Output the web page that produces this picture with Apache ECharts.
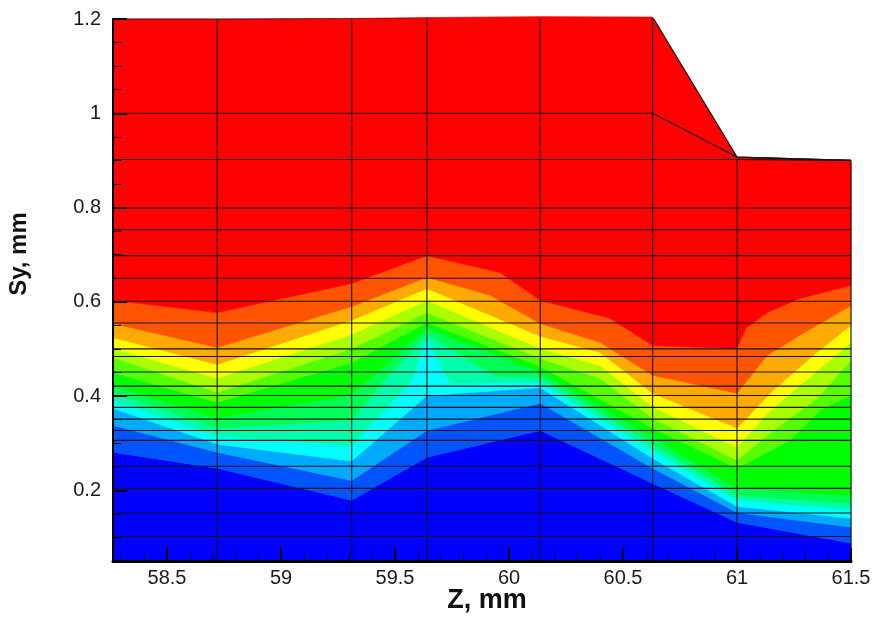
<!DOCTYPE html>
<html><head><meta charset="utf-8">
<script src="https://cdn.jsdelivr.net/npm/echarts@6/dist/echarts.min.js"></script>
<style>html,body{margin:0;padding:0;background:#fff}#c{width:874px;height:617px}</style>
</head><body><div id="c"></div>
<script>
// ---- axis ranges and ticks ----
const xMin = 58.263, xMax = 61.5, yMin = 0.05, yMax = 1.2;
const xTickValues = [58.5, 59, 59.5, 60, 60.5, 61, 61.5];
const xMinorTicks = [58.3,58.4,58.6,58.7,58.8,58.9,59.1,59.2,59.3,59.4,59.6,59.7,59.8,59.9,60.1,60.2,60.3,60.4,60.6,60.7,60.8,60.9,61.1,61.2,61.3,61.4];
const yTickValues = [0.2, 0.4, 0.6, 0.8, 1, 1.2];
const yMinorTicks = [0.1,0.15,0.25,0.3,0.35,0.45,0.5,0.55,0.65,0.7,0.75,0.85,0.9,0.95,1.05,1.1,1.15];

// ---- computational mesh ----
const meshColumns = [58.263, 58.72, 59.31, 59.64, 60.137, 60.63, 61.0, 61.5];
const meshTop = [1.2, 1.2, 1.201, 1.203, 1.205, 1.204, 0.907, 0.900];
const meshBottom = 0.05;
const meshRows = [0.102, 0.152, 0.204, 0.251, 0.306, 0.327, 0.351, 0.376, 0.401, 0.421, 0.451, 0.484, 0.500, 0.555, 0.601, 0.650, 0.698, 0.753, 0.799, 0.902, 1.0];

// ---- contour band colours (bottom -> top) ----
const bandColors = ['#0000ff','#0055ff','#00aaff','#00ffff','#00ffaa','#00ff55','#00ff00','#55ff00','#aaff00','#ffff00','#ffaa00','#ff5500','#ff0000'];

// ---- contour level lines (Sy position of each level along Z) ----
const level1 = [[58.263,0.281],[58.72,0.247],[59.31,0.179],[59.64,0.270],[60.137,0.327],[60.63,0.215],[61.0,0.132],[61.5,0.088]];
const level2 = [[58.263,0.338],[58.72,0.281],[59.31,0.221],[59.64,0.327],[60.137,0.385],[60.63,0.247],[61.0,0.153],[61.5,0.122]];
const level3 = [[58.263,0.374],[58.72,0.298],[59.31,0.262],[59.64,0.401],[60.137,0.418],[60.63,0.268],[61.0,0.166],[61.5,0.141]];
const level4 = [[58.263,0.391],[58.72,0.315],[59.31,0.295],[59.566,0.427],[59.64,0.524],[59.741,0.427],[60.137,0.429],[60.63,0.285],[61.0,0.179],[61.5,0.158]];
const level5 = [[58.263,0.406],[58.72,0.332],[59.31,0.348],[59.443,0.427],[59.64,0.531],[59.939,0.442],[60.137,0.440],[60.63,0.298],[61.0,0.189],[61.5,0.172]];
const level6 = [[58.263,0.421],[58.72,0.353],[59.31,0.402],[59.64,0.544],[60.137,0.450],[60.63,0.312],[61.0,0.204],[61.5,0.189]];
const level7 = [[58.263,0.450],[58.72,0.387],[59.31,0.471],[59.64,0.556],[60.137,0.463],[60.63,0.332],[61.0,0.247],[61.232,0.306],[61.364,0.370],[61.5,0.402]];
const level8 = [[58.263,0.482],[58.72,0.408],[59.31,0.501],[59.64,0.577],[60.137,0.480],[60.399,0.438],[60.63,0.353],[61.0,0.264],[61.158,0.327],[61.351,0.395],[61.5,0.476]];
const level9 = [[58.263,0.501],[58.72,0.438],[59.31,0.531],[59.64,0.603],[60.137,0.501],[60.399,0.465],[60.63,0.378],[61.0,0.291],[61.132,0.363],[61.276,0.423],[61.5,0.514]];
const level10 = [[58.263,0.524],[58.72,0.467],[59.31,0.561],[59.64,0.628],[60.137,0.527],[60.399,0.493],[60.63,0.406],[61.0,0.332],[61.158,0.412],[61.351,0.493],[61.5,0.550]];
const level11 = [[58.263,0.554],[58.72,0.503],[59.31,0.590],[59.64,0.652],[59.917,0.614],[60.137,0.554],[60.399,0.514],[60.63,0.444],[61.0,0.406],[61.132,0.486],[61.276,0.529],[61.5,0.592]];
const level12 = [[58.263,0.603],[58.72,0.577],[59.31,0.639],[59.64,0.698],[59.961,0.662],[60.137,0.603],[60.443,0.565],[60.63,0.507],[61.0,0.501],[61.039,0.544],[61.132,0.577],[61.276,0.607],[61.5,0.635]];

// ---- build ----
const bottomLine = [[meshColumns[0], meshBottom], [meshColumns[meshColumns.length-1], meshBottom]];
const topLine = meshColumns.map((x, j) => [x, meshTop[j]]);
const bounds = [bottomLine, level1, level2, level3, level4, level5, level6, level7, level8, level9, level10, level11, level12, topLine];

const meshColor = '#151515';
const meshSeries = [];
meshRows.forEach(r => {
  meshSeries.push({type:'line', data: meshColumns.map((x, j) => [x, Math.min(r, meshTop[j])]),
    symbol:'none', silent:true, z:5, lineStyle:{color:meshColor, width:1.1}, animation:false});
});
meshSeries.push({type:'line', data: topLine, symbol:'none', silent:true, z:5, lineStyle:{color:meshColor, width:1.1}, animation:false});
meshColumns.forEach((x, j) => {
  meshSeries.push({type:'line', data: [[x, meshBottom], [x, meshTop[j]]], symbol:'none', silent:true, z:5,
    lineStyle:{color:meshColor, width:1.1}, animation:false});
});

const labelFont = 'Liberation Sans, Arial, sans-serif';
const chart = echarts.init(document.getElementById('c'), null, {renderer:'canvas'});
chart.setOption({
  animation:false,
  backgroundColor:'#ffffff',
  grid:{left:113, right:23, top:19, bottom:56, containLabel:false},
  xAxis:[
    {type:'value', min:xMin, max:xMax, position:'bottom',
     axisLine:{show:true, lineStyle:{color:'#000', width:3}},
     axisTick:{show:true, inside:true, length:13, customValues:xTickValues, lineStyle:{color:'#000', width:2}},
     axisLabel:{show:true, customValues:xTickValues, fontSize:20, color:'#1a1a1a', margin:7, fontFamily:labelFont},
     splitLine:{show:false}, z:10},
    {type:'value', min:xMin, max:xMax, position:'bottom',
     axisLine:{show:false},
     axisTick:{show:true, inside:true, length:7, customValues:xMinorTicks, lineStyle:{color:'#000', width:1}},
     axisLabel:{show:false}, splitLine:{show:false}, z:10}
  ],
  yAxis:[
    {type:'value', min:yMin, max:yMax, position:'left',
     axisLine:{show:true, lineStyle:{color:'#000', width:2}},
     axisTick:{show:true, inside:true, length:14, customValues:yTickValues, lineStyle:{color:'#000', width:2}},
     axisLabel:{show:true, customValues:yTickValues, fontSize:20, color:'#1a1a1a', margin:12, fontFamily:labelFont},
     splitLine:{show:false}, z:10},
    {type:'value', min:yMin, max:yMax, position:'left',
     axisLine:{show:false},
     axisTick:{show:true, inside:true, length:8, customValues:yMinorTicks, lineStyle:{color:'#000', width:1}},
     axisLabel:{show:false}, splitLine:{show:false}, z:10}
  ],
  graphic:[
    {type:'text', x:487, y:601, style:{text:'Z, mm', textAlign:'center', textVerticalAlign:'middle',
      font:'bold 27px Liberation Sans, Arial, sans-serif', fill:'#111'}, z:20},
    {type:'text', x:19, y:254, rotation:Math.PI/2, style:{text:'Sy, mm', textAlign:'center', textVerticalAlign:'middle',
      font:'bold 24px Liberation Sans, Arial, sans-serif', fill:'#111'}, z:20}
  ],
  series:[{
    type:'custom', coordinateSystem:'cartesian2d', xAxisIndex:0, yAxisIndex:0, silent:true, z:1, animation:false,
    data: bandColors.map((c, i) => [meshColumns[0], meshBottom, i]),
    renderItem: function (params, api) {
      const i = params.dataIndex;
      const lo = bounds[i], hi = bounds[i + 1];
      const pts = lo.map(p => api.coord(p)).concat(hi.slice().reverse().map(p => api.coord(p)));
      return {type:'polygon', shape:{points:pts}, style:{fill:bandColors[i], stroke:bandColors[i], lineWidth:0.7}};
    }
  }].concat(meshSeries)
});
</script>
</body></html>
